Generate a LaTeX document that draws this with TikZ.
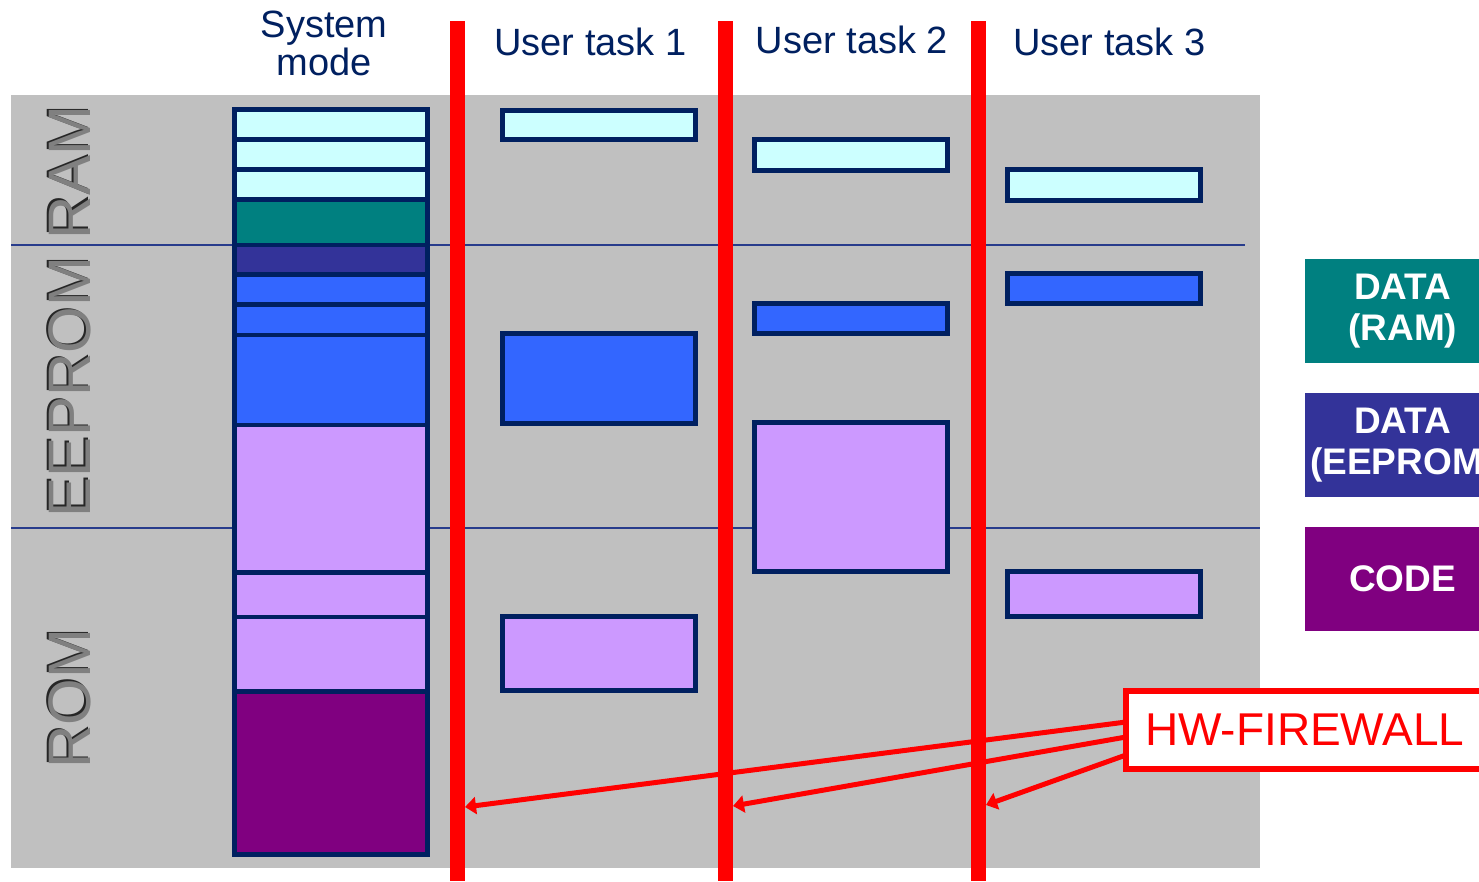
\documentclass[tikz,border=0pt]{standalone}
\usepackage{fontspec}
\setmainfont{Liberation Sans}
\usetikzlibrary{arrows.meta}
\definecolor{navy}{RGB}{0,32,96}
\definecolor{rule}{RGB}{40,60,140}
\definecolor{panel}{RGB}{192,192,192}
\definecolor{ramcell}{RGB}{204,255,255}
\definecolor{ramdata}{RGB}{0,128,128}
\definecolor{eedata}{RGB}{51,51,153}
\definecolor{eecell}{RGB}{51,102,255}
\definecolor{codecell}{RGB}{204,153,255}
\definecolor{codemain}{RGB}{128,0,128}
\definecolor{labelgray}{RGB}{128,128,128}
\definecolor{fwred}{RGB}{255,0,0}

\begin{document}
\begin{tikzpicture}[x=1pt,y=-1pt,
  membox/.style={draw=navy, line width=5pt, inner sep=0pt, outer sep=0pt,
    anchor=north west, minimum width=193pt},
  syscell/.style={draw=navy, line width=4.5pt, inner sep=0pt, outer sep=0pt,
    anchor=north west, minimum width=193pt},
  title/.style={text=navy, font=\fontsize{38}{38}\selectfont, anchor=base,
    inner sep=0pt, align=center},
  area/.style={text=labelgray, font=\fontsize{60}{60}\selectfont, rotate=90,
    anchor=base, inner sep=0pt},
  areashadow/.style={area, text=black!85},
  legend/.style={anchor=north west, minimum width=195pt, minimum height=104pt,
    inner sep=0pt, text=white, font=\bfseries\fontsize{37}{41}\selectfont,
    align=center},
  firewall/.style={fill=fwred, draw=none, minimum width=15pt,
    minimum height=860pt, anchor=north, inner sep=0pt, outer sep=0pt},
  fwarrow/.style={draw=fwred, line width=5pt,
    -{Triangle[length=11pt,width=17pt]}}
]
% canvas and grey memory panel
\fill[white] (0,0) rectangle (1479,881);
\useasboundingbox (0,0) rectangle (1479,881);
\fill[panel] (11,95) rectangle (1260,868);

% boundaries between the memory areas
\draw[rule, line width=1.5pt] (11,245) -- (1245,245);
\draw[rule, line width=1.5pt] (11,528) -- (1260,528);

% area labels
\foreach \name/\yc in {RAM/172.5, EEPROM/387, ROM/698.5}{
  \node[areashadow] at (88.8,\yc-1.2) {\name};
  \node[area] (lbl\name) at (90,\yc) {\name};
}

% column titles
\node[title] (tsys) at (324,75) {System\\mode};
\node[title] (tu1) at (590.5,55) {User task 1};
\node[title] (tu2) at (852,53) {User task 2};
\node[title] (tu3) at (1109.5,55) {User task 3};

% system mode memory map
\foreach \top/\h/\col [count=\i] in {
    109.5/30/ramcell, 139.5/30/ramcell, 169.5/30/ramcell,
    199.5/45.5/ramdata, 245/29.5/eedata, 274.5/30/eecell,
    304.5/30.5/eecell, 335/90/eecell, 425/147.5/codecell,
    572.5/44.5/codecell, 617/74.5/codecell, 691.5/163/codemain}{
  \node[syscell, fill=\col, minimum height=\h] (sys\i) at (234.5,\top) {};
}
\node[membox, minimum height=745pt] (sysframe) at (234.5,109.5) {};

% user task 1
\node[membox, fill=ramcell, minimum height=29pt]  (u1ram)  at (502.5,110.5) {};
\node[membox, fill=eecell,  minimum height=90pt]  (u1ee)   at (502.5,333.5) {};
\node[membox, fill=codecell,minimum height=74pt]  (u1code) at (502.5,616.5) {};
% user task 2
\node[membox, fill=ramcell, minimum height=31pt]  (u2ram)  at (754.5,139.5) {};
\node[membox, fill=eecell,  minimum height=30pt]  (u2ee)   at (754.5,303.5) {};
\node[membox, fill=codecell,minimum height=149pt] (u2code) at (754.5,422.5) {};
% user task 3
\node[membox, fill=ramcell, minimum height=31pt]  (u3ram)  at (1007.5,169.5) {};
\node[membox, fill=eecell,  minimum height=30pt]  (u3ee)   at (1007.5,273.5) {};
\node[membox, fill=codecell,minimum height=45pt]  (u3code) at (1007.5,571.5) {};

% firewall barriers
\node[firewall] (fw1) at (457.5,21) {};
\node[firewall] (fw2) at (725,21) {};
\node[firewall] (fw3) at (978,21) {};

% legend
\node[legend, fill=ramdata]  (legram)  at (1305,259) {DATA\\(RAM)};
\node[legend, fill=eedata]   (legee)   at (1305,393) {DATA\\(EEPROM)};
\node[legend, fill=codemain] (legcode) at (1305,527) {CODE};

% firewall callout
\node[draw=fwred, line width=6pt, fill=white, anchor=west, outer sep=0pt,
      inner xsep=19pt, inner ysep=0pt, minimum height=78pt,
      text width=350pt, align=left, text=fwred,
      font=\fontsize{46}{46}\selectfont] (hw) at (1126,729.5) {HW-FIREWALL};

\coordinate (t1) at (465,807);
\coordinate (t2) at (733,806);
\coordinate (t3) at (986,805);
\draw[fwarrow] ([yshift=7.5pt]hw.west) -- (t1);
\draw[fwarrow] ([yshift=-7.5pt]hw.west) -- (t2);
\draw[fwarrow] ([yshift=-25.5pt]hw.west) -- (t3);
\end{tikzpicture}
\end{document}
